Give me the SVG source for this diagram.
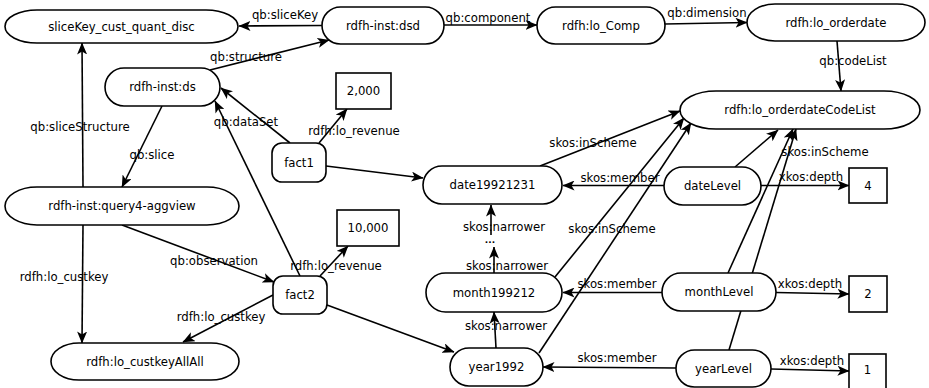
<svg xmlns="http://www.w3.org/2000/svg" width="929" height="388" viewBox="0 0 929 388">
<defs>
<marker id="ah" viewBox="0 0 12 10" refX="11.5" refY="5" markerWidth="12" markerHeight="10" markerUnits="userSpaceOnUse" orient="auto">
<path d="M0,0 L12,5 L0,10 L3,5 z" fill="#000"/>
</marker>
<style>
.n{fill:#fff;stroke:#000;stroke-width:1.6}
.t{font-family:"DejaVu Sans",sans-serif;font-size:11.7px;fill:#000;text-anchor:middle}
.e{stroke:#000;stroke-width:1.6;fill:none;marker-end:url(#ah)}
</style>
</defs>
<rect width="929" height="388" fill="#fff"/>
<g id="connectors">
<line class="e" x1="322" y1="25.5" x2="239" y2="26"/>
<line class="e" x1="210" y1="70" x2="329" y2="40"/>
<line class="e" x1="444" y1="25" x2="537" y2="25"/>
<line class="e" x1="665" y1="24" x2="747" y2="22.5"/>
<line class="e" x1="837" y1="41" x2="841" y2="91"/>
<line class="e" x1="83" y1="187" x2="82" y2="43"/>
<line class="e" x1="162" y1="106" x2="122" y2="187"/>
<line class="e" x1="290" y1="143" x2="221" y2="88"/>
<line class="e" x1="300" y1="276" x2="215" y2="101"/>
<line class="e" x1="319" y1="143" x2="347" y2="109"/>
<line class="e" x1="326" y1="166" x2="423" y2="178"/>
<line class="e" x1="122" y1="225" x2="274" y2="282"/>
<line class="e" x1="83" y1="225" x2="82" y2="343"/>
<line class="e" x1="273" y1="295" x2="183" y2="342"/>
<line class="e" x1="320" y1="276" x2="348" y2="246"/>
<line class="e" x1="327" y1="305" x2="454" y2="352"/>
<line class="e" x1="540" y1="166" x2="680" y2="111"/>
<line class="e" x1="664" y1="185.5" x2="563" y2="185.5"/>
<line class="e" x1="735" y1="167" x2="778" y2="130"/>
<line class="e" x1="761" y1="185.5" x2="849" y2="185.5"/>
<line class="e" x1="491" y1="235" x2="491" y2="205"/>
<line class="e" x1="494" y1="273" x2="494" y2="247"/>
<line class="e" x1="555" y1="277" x2="684" y2="118"/>
<line class="e" x1="539" y1="353" x2="691" y2="123"/>
<line class="e" x1="662" y1="292.5" x2="563" y2="292.5"/>
<line class="e" x1="728" y1="273" x2="793" y2="129"/>
<line class="e" x1="776" y1="292.5" x2="849" y2="294"/>
<line class="e" x1="496" y1="348" x2="494" y2="312"/>
<line class="e" x1="676" y1="368" x2="543" y2="367"/>
<line class="e" x1="729" y1="350" x2="796" y2="129"/>
<line class="e" x1="771" y1="369" x2="849" y2="371"/>
<text class="t" x="285" y="19">qb:sliceKey</text>
<text class="t" x="246" y="61">qb:structure</text>
<text class="t" x="488" y="22">qb:component</text>
<text class="t" x="707" y="17">qb:dimension</text>
<text class="t" x="853" y="65">qb:codeList</text>
<text class="t" x="80" y="131">qb:sliceStructure</text>
<text class="t" x="152" y="159">qb:slice</text>
<text class="t" x="246" y="126">qb:dataSet</text>
<text class="t" x="354" y="135">rdfh:lo_revenue</text>
<text class="t" x="593" y="147">skos:inScheme</text>
<text class="t" x="825" y="156">skos:inScheme</text>
<text class="t" x="620" y="182">skos:member</text>
<text class="t" x="811" y="181">xkos:depth</text>
<text class="t" x="504" y="231">skos:narrower</text>
<text class="t" x="612" y="233">skos:inScheme</text>
<text class="t" x="490" y="243" style="font-size:9px;font-weight:bold">...</text>
<text class="t" x="336" y="270">rdfh:lo_revenue</text>
<text class="t" x="214" y="265">qb:observation</text>
<text class="t" x="507" y="270">skos:narrower</text>
<text class="t" x="64" y="281">rdfh:lo_custkey</text>
<text class="t" x="617" y="288">skos:member</text>
<text class="t" x="810" y="288">xkos:depth</text>
<text class="t" x="221" y="321">rdfh:lo_custkey</text>
<text class="t" x="506" y="330">skos:narrower</text>
<text class="t" x="617" y="362">skos:member</text>
<text class="t" x="812" y="365">xkos:depth</text>
</g>
<g id="sliceKey"><rect class="n" x="5" y="10" width="233" height="33" rx="32" ry="16.5"/><text class="t" x="121.5" y="30.5">sliceKey_cust_quant_disc</text></g>
<g id="dsd"><rect class="n" x="322" y="7" width="122" height="37" rx="18.5"/><text class="t" x="383" y="29.5">rdfh-inst:dsd</text></g>
<g id="lo_Comp"><rect class="n" x="537" y="7" width="128" height="37" rx="18.5"/><text class="t" x="601" y="29.5">rdfh:lo_Comp</text></g>
<g id="lo_orderdate"><rect class="n" x="747" y="4" width="178" height="37" rx="28" ry="18.5"/><text class="t" x="836" y="26.5">rdfh:lo_orderdate</text></g>
<g id="codeList"><rect class="n" x="680" y="91" width="240" height="38" rx="36" ry="19"/><text class="t" x="800" y="114">rdfh:lo_orderdateCodeList</text></g>
<g id="ds"><rect class="n" x="105" y="68" width="115" height="38" rx="19"/><text class="t" x="162.5" y="91">rdfh-inst:ds</text></g>
<g id="v2000"><rect class="n" x="336" y="73" width="55" height="36"/><text class="t" x="363.5" y="95">2,000</text></g>
<g id="fact1"><rect class="n" x="272" y="143" width="54" height="39" rx="10"/><text class="t" x="299" y="166.5">fact1</text></g>
<g id="date19921231"><rect class="n" x="423" y="166" width="139" height="38" rx="19"/><text class="t" x="492.5" y="189">date19921231</text></g>
<g id="v10000"><rect class="n" x="337" y="210" width="62" height="36"/><text class="t" x="368" y="232">10,000</text></g>
<g id="query4"><rect class="n" x="5" y="187" width="234" height="38" rx="32" ry="19"/><text class="t" x="122" y="210">rdfh-inst:query4-aggview</text></g>
<g id="dateLevel"><rect class="n" x="664" y="167" width="97" height="38" rx="19"/><text class="t" x="712.5" y="190">dateLevel</text></g>
<g id="v4"><rect class="n" x="849" y="168" width="38" height="35"/><text class="t" x="868" y="189.5">4</text></g>
<g id="fact2"><rect class="n" x="273" y="276" width="54" height="38" rx="10"/><text class="t" x="300" y="299">fact2</text></g>
<g id="month199212"><rect class="n" x="426" y="273" width="136" height="39" rx="19.5"/><text class="t" x="494" y="296.5">month199212</text></g>
<g id="year1992"><rect class="n" x="450" y="348" width="93" height="38" rx="19"/><text class="t" x="496.5" y="371">year1992</text></g>
<g id="custkeyAllAll"><rect class="n" x="51" y="343" width="188" height="37" rx="28" ry="18.5"/><text class="t" x="145" y="365.5">rdfh:lo_custkeyAllAll</text></g>
<g id="monthLevel"><rect class="n" x="662" y="273" width="114" height="38" rx="19"/><text class="t" x="719" y="296">monthLevel</text></g>
<g id="v2"><rect class="n" x="849" y="276" width="38" height="36"/><text class="t" x="868" y="298">2</text></g>
<g id="yearLevel"><rect class="n" x="676" y="350" width="95" height="37" rx="18.5"/><text class="t" x="723.5" y="372.5">yearLevel</text></g>
<g id="v1"><rect class="n" x="849" y="354" width="37" height="36"/><text class="t" x="867.5" y="374">1</text></g>
</svg>
